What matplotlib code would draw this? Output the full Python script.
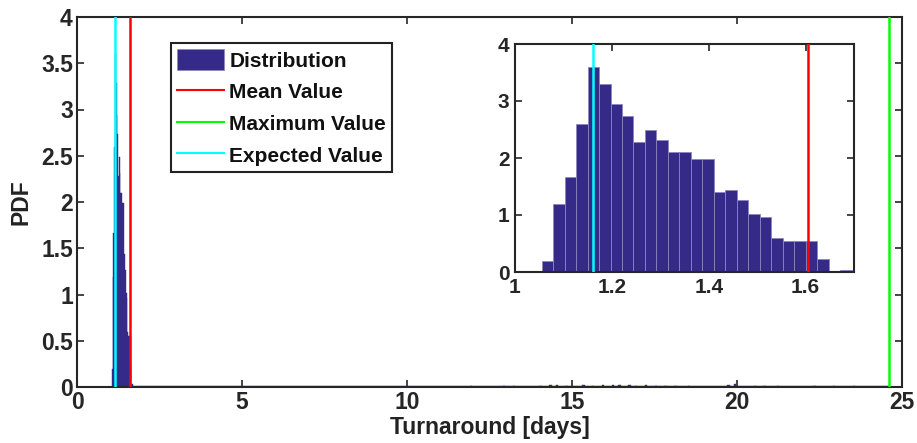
import matplotlib
matplotlib.use("Agg")
import matplotlib.pyplot as plt
from matplotlib.patches import Patch
from matplotlib.lines import Line2D
import numpy as np

# ---- data ----
bin_start = 1.055
bin_width = 0.0237
pdf_heights = [0.20, 1.19, 1.66, 2.60, 3.60, 3.29, 2.94, 2.74, 2.28, 2.49,
               2.31, 2.10, 2.10, 1.99, 1.99, 1.40, 1.44, 1.26, 1.02, 0.96,
               0.60, 0.55, 0.55, 0.55, 0.23, 0.02, 0.03]
outlier_x = [11.9, 12.9, 13.2, 14.0, 14.3, 14.5, 14.8, 15.3, 15.6, 15.9, 16.2,
             16.4, 16.7, 16.9, 17.2, 17.5, 17.8, 18.1, 18.5, 19.7, 19.9, 20.5,
             20.8, 21.2, 22.3, 22.9, 23.5]
outlier_h = [0.012, 0.012, 0.012, 0.015, 0.02, 0.02, 0.015, 0.02, 0.015, 0.02,
             0.02, 0.02, 0.02, 0.015, 0.02, 0.015, 0.015, 0.015, 0.015, 0.02,
             0.03, 0.015, 0.015, 0.012, 0.012, 0.012, 0.012]
mean_value = 1.605
max_value = 24.6
expected_value = 1.162

main_xticks = [0, 5, 10, 15, 20, 25]
main_yticks = [0, 0.5, 1, 1.5, 2, 2.5, 3, 3.5, 4]
main_ytick_labels = ["0", "0.5", "1", "1.5", "2", "2.5", "3", "3.5", "4"]
inset_xticks = [1, 1.2, 1.4, 1.6]
inset_yticks = [0, 1, 2, 3, 4]

# ---- style ----
plt.rcParams['font.family'] = ['Liberation Sans', 'DejaVu Sans']
plt.rcParams['font.weight'] = 'bold'
BAR = '#352A87'
EDGE = '#8a86c0'
SPINE = '#262626'

lefts = [bin_start + i * bin_width for i in range(len(pdf_heights))]

fig = plt.figure(figsize=(9.17, 4.43), dpi=100)
ax = fig.add_axes([77 / 917, 1 - 387 / 443, (902 - 77) / 917, (387 - 17) / 443])

ax.bar(lefts, pdf_heights, width=bin_width, align='edge', color=BAR,
       edgecolor=BAR, linewidth=0.3, zorder=2)
ax.bar(outlier_x, outlier_h, width=0.08, align='edge', color=BAR,
       edgecolor=BAR, linewidth=0.3, zorder=2)
ax.hlines(0, lefts[0], max_value, color=BAR, lw=2.5, zorder=2)
ax.axvline(mean_value, color='#ff0000', lw=1.8, zorder=3)
ax.axvline(max_value, color='#00ff00', lw=1.8, zorder=3)
ax.axvline(expected_value, color='#00ffff', lw=1.8, zorder=3)

ax.set_xlim(0, 25)
ax.set_ylim(0, 4)
ax.set_xticks(main_xticks)
ax.set_xticklabels([str(t) for t in main_xticks])
ax.set_yticks(main_yticks)
ax.set_yticklabels(main_ytick_labels)
ax.set_xlabel('Turnaround [days]', fontsize=16.5, fontweight='bold', labelpad=1.5, color='#222222')
ax.set_ylabel('PDF', fontsize=16.5, fontweight='bold', labelpad=6, color='#222222')

ax.tick_params(direction='in', length=5, width=1.2, colors=SPINE,
               labelsize=16.5, top=True, right=True, pad=3)
for s in ax.spines.values():
    s.set_color(SPINE)
    s.set_linewidth(1.5)

handles = [Patch(facecolor=BAR, edgecolor=EDGE, linewidth=0.5),
           Line2D([], [], color='#ff0000', lw=1.5),
           Line2D([], [], color='#00ff00', lw=1.5),
           Line2D([], [], color='#00ffff', lw=1.5)]
leg = ax.legend(handles, ['Distribution', 'Mean Value', 'Maximum Value', 'Expected Value'],
                loc='upper left', bbox_to_anchor=(171 / 917, 1 - 43 / 443),
                bbox_transform=fig.transFigure, fancybox=False, framealpha=1,
                edgecolor='#222222', fontsize=15, handlelength=2.25,
                handleheight=1.15, labelspacing=0.5, borderpad=0.3,
                handletextpad=0.25, borderaxespad=0)
leg.get_frame().set_linewidth(1.5)
for t in leg.get_texts():
    t.set_fontweight('bold')
    t.set_color('#111111')

# ---- inset ----
ins = fig.add_axes([515 / 917, 1 - 272 / 443, (854 - 515) / 917, (272 - 44) / 443])
ins.bar(lefts, pdf_heights, width=bin_width, align='edge', color=BAR,
        edgecolor=EDGE, linewidth=0.6, zorder=2)
ins.axvline(mean_value, color='#ff0000', lw=1.8, zorder=3)
ins.axvline(expected_value, color='#00ffff', lw=1.8, zorder=3)
ins.set_xlim(1, 1.7)
ins.set_ylim(0, 4)
ins.set_xticks(inset_xticks)
ins.set_xticklabels(['1', '1.2', '1.4', '1.6'])
ins.set_yticks(inset_yticks)
ins.set_yticklabels([str(t) for t in inset_yticks])
ins.tick_params(direction='in', length=5, width=1.2, colors=SPINE,
                labelsize=15, top=True, right=True, pad=4)
for s in ins.spines.values():
    s.set_color(SPINE)
    s.set_linewidth(1.5)

fig.savefig('out.png', dpi=100)
